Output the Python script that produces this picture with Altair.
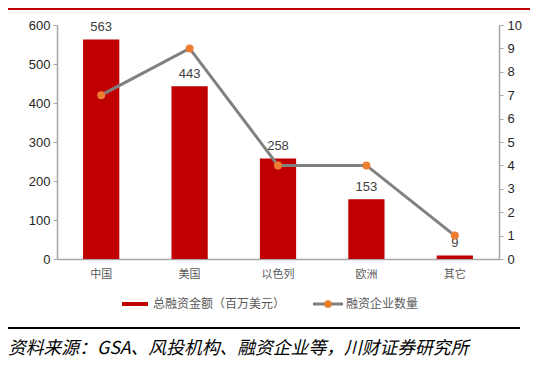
import altair as alt
import pandas as pd

categories = ["中国", "美国", "以色列", "欧洲", "其它"]
amounts = [563, 443, 258, 153, 9]
counts = [7, 9, 4, 4, 1]

df = pd.DataFrame({"cat": categories, "amount": amounts, "count": counts})
one = pd.DataFrame({"a": [0]})

W, H = 442, 234
FONT = "Liberation Sans"
CJK = "Noto Sans CJK SC"

x = alt.X("cat:N", sort=categories, title=None,
          scale=alt.Scale(paddingInner=0.59, paddingOuter=0.295),
          axis=alt.Axis(labelAngle=0, ticks=False, domainColor="#A6A6A6", domainWidth=1.5,
                        labelFont=CJK, labelFontSize=11, labelColor="#595959", labelPadding=9))

yl = alt.Y("amount:Q", title=None,
           scale=alt.Scale(domain=[0, 600]),
           axis=alt.Axis(values=[0, 100, 200, 300, 400, 500, 600], tickCount=7, grid=False,
                         labelOverlap=False, labelFlush=False,
                         domainColor="#A6A6A6", domainWidth=1.5, tickColor="#A6A6A6",
                         tickSize=4, labelFont=FONT, labelFontSize=13, labelColor="#262626",
                         labelPadding=3))
yr = alt.Y("count:Q", title=None, scale=alt.Scale(domain=[0, 10]),
           axis=alt.Axis(orient="right", values=list(range(11)), tickCount=11, grid=False,
                         labelOverlap=False, labelFlush=False,
                         domainColor="#A6A6A6", domainWidth=1.5, tickColor="#A6A6A6",
                         tickSize=4, labelFont=FONT, labelFontSize=13, labelColor="#262626",
                         labelPadding=4))

lbase = alt.Chart(df).encode(x=x, y=yl)
bars = lbase.mark_bar(color="#C00000")
bar_labels = lbase.mark_text(dy=-12, font=FONT, fontSize=13, color="#404040").encode(text="amount:Q")
left = alt.layer(bars, bar_labels)

rbase = alt.Chart(df).encode(x=x, y=yr)
line = rbase.mark_line(color="#808080", strokeWidth=3)
pts = rbase.mark_point(filled=True, color="#ED7D31", size=64, opacity=1)
right = alt.layer(line, pts)

def rule(x1, x2, yv, color, sw):
    return alt.Chart(one).mark_rule(color=color, strokeWidth=sw).encode(
        x=alt.value(x1), x2=alt.value(x2), y=alt.value(yv))

def txt(xv, yv, s, **kw):
    return alt.Chart(one).mark_text(align="left", baseline="middle", **kw).encode(
        x=alt.value(xv), y=alt.value(yv), text=alt.value(s))

deco = alt.layer(
    rule(-54, 481, -16, "#C00000", 2),
    rule(65, 91, 279, "#C00000", 4),
    txt(96, 279, "总融资金额（百万美元）", font=CJK, fontSize=12, color="#595959"),
    rule(256, 286, 279, "#808080", 3),
    alt.Chart(one).mark_point(filled=True, color="#ED7D31", size=60, opacity=1).encode(
        x=alt.value(271), y=alt.value(279)),
    txt(289, 279, "融资企业数量", font=CJK, fontSize=12, color="#595959"),
    rule(-54, 463, 303, "#000000", 2),
    txt(-49, 324, "资料来源：GSA、风投机构、融资企业等，川财证券研究所",
        font=CJK, fontSize=17.8, fontStyle="italic", color="#000000"),
)

chart = alt.layer(left, right, deco).resolve_scale(y="independent").properties(
    width=W, height=H,
    autosize=alt.AutoSizeParams(type="none"),
    padding={"left": 49, "top": 17, "right": 31, "bottom": 102},
).configure_view(stroke=None)

chart.save("out.html", embed_options={"renderer": "svg", "actions": False})
